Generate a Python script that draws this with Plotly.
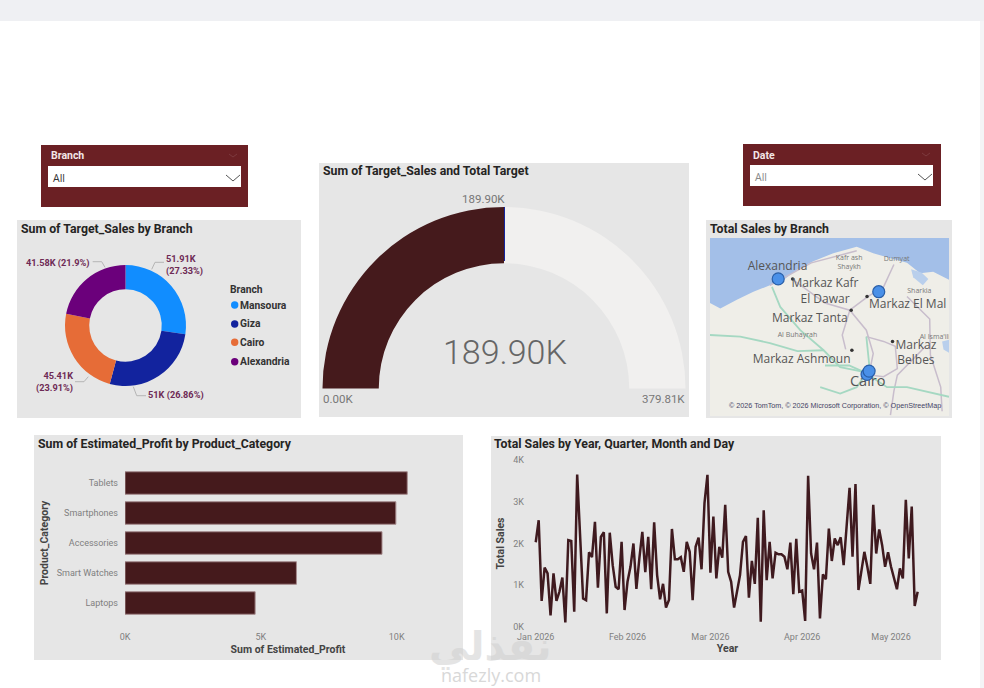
import plotly.graph_objects as go
import pandas as pd

# ---------- data ----------
branches = ["Mansoura", "Giza", "Cairo", "Alexandria"]
target_sales = [51.91, 51.0, 45.41, 41.58]
branch_colors = ["#118dff", "#12239e", "#e66c37", "#6b007b"]

gauge_value = 189.90
gauge_max = 379.81

categories = ["Tablets", "Smartphones", "Accessories", "Smart Watches", "Laptops"]
profit = [10390, 9970, 9460, 6310, 4790]

sales_start = "2026-01-01"
daily_sales = [
    2030, 2560, 620, 1420, 1280, 270, 1280, 620, 840, 1180, 100, 2080, 2060, 360, 3660, 1960,
    680, 640, 1790, 1670, 2520, 940, 2160, 2270, 320, 2260, 1480, 960, 900, 2040, 400,
    1080, 1440, 2000, 910, 1640, 2280, 1310, 2160, 900, 2510, 1240, 660, 1030, 460, 640, 2350,
    1620, 1620, 1670, 1320, 2040, 1800, 640, 1920, 2140, 1380, 2970, 3650,
    1300, 2650, 1160, 1920, 1660, 2930, 1320, 1080, 460, 880, 1240, 2040, 2180, 700, 1580, 1030,
    2620, 120, 2800, 1120, 2040, 1160, 1780, 1740, 1740, 1680, 1380, 2020, 780, 2110, 840,
    870, 140, 3630, 1760, 1380, 2020, 200, 1260, 1140, 2360, 1580, 2120, 1960, 2150, 1480,
    2500, 3340, 1680, 3430, 880, 1320, 1800, 1440, 1030, 2930, 1760, 2340, 1960, 1440, 1790,
    1440, 1200, 900, 1400, 1160, 3050, 1640, 2890, 500, 840,
]
month_ticks = ["2026-01-01", "2026-02-01", "2026-03-01", "2026-04-01", "2026-05-01"]
month_labels = ["Jan 2026", "Feb 2026", "Mar 2026", "Apr 2026", "May 2026"]

map_branches = ["Alexandria", "Mansoura", "Giza", "Cairo"]
map_lon = [29.92, 31.38, 31.21, 31.24]
map_lat = [31.20, 31.04, 30.01, 30.05]

sea_lon = [28.93, 28.93, 29.08, 29.32, 29.56, 29.80, 30.00, 30.19, 30.43, 30.72, 31.06, 31.30, 31.54, 31.79, 31.98, 32.17, 32.40, 32.40]
sea_lat = [31.71, 30.90, 30.83, 30.94, 31.04, 31.12, 31.19, 31.31, 31.42, 31.52, 31.60, 31.52, 31.46, 31.40, 31.27, 31.29, 31.19, 31.71]
lake1_lon = [31.85, 32.0, 32.10, 32.02, 31.88]
lake1_lat = [31.32, 31.28, 31.20, 31.12, 31.22]
lake2_lon = [32.30, 32.40, 32.40, 32.32]
lake2_lat = [30.42, 30.44, 30.28, 30.32]

green_roads = [
    ([29.83, 29.95, 30.24, 30.58, 30.82, 31.16], [31.10, 30.85, 30.56, 30.31, 30.10, 30.04]),
    ([28.93, 29.37, 29.80, 30.20, 30.58], [30.50, 30.48, 30.40, 30.30, 30.31]),
    ([31.20, 31.50, 31.79, 32.17, 32.40], [30.02, 29.85, 29.85, 29.77, 29.73]),
    ([30.53, 30.82, 31.06, 31.20], [29.85, 29.77, 29.85, 30.02]),
    ([31.20, 31.25], [30.48, 30.06]),
    ([30.60, 30.95, 31.16], [30.12, 30.12, 30.04]),
]
grey_roads = [
    ([30.15, 30.60, 30.96, 31.20, 31.30, 31.25], [31.18, 30.90, 30.81, 30.56, 30.27, 30.06]),
    ([31.20, 31.45, 31.62, 31.65, 31.45, 31.25], [30.48, 30.42, 30.36, 30.08, 29.98, 30.00]),
    ([31.79, 32.12, 32.13, 32.28, 32.30], [30.98, 30.70, 30.25, 29.85, 29.55]),
    ([30.96, 31.22, 31.45, 31.60], [30.81, 30.98, 31.10, 31.38]),
    ([30.96, 30.85, 30.90], [30.81, 30.50, 30.32]),
    ([31.55, 31.60, 31.65, 32.05], [29.50, 29.80, 30.00, 30.35]),
    ([29.80, 30.40, 31.06], [31.12, 31.40, 31.55]),
]
minor_dots_lon = [30.13, 31.21, 30.98, 30.99, 31.58]
minor_dots_lat = [31.20, 30.98, 30.81, 30.31, 30.42]

map_text = ["Alexandria", "Markaz Kafr<br>El Dawar", "Markaz Tanta", "Markaz El Mal", "Markaz Ashmoun", "Markaz<br>Belbes", "Cairo"]
map_text_lon = [29.91, 30.60, 30.38, 31.80, 30.26, 31.92, 31.22]
map_text_lat = [31.345, 31.04, 30.70, 30.87, 30.19, 30.27, 29.91]
map_text_size = [12, 12, 12, 12, 12, 12, 14.5]
small_text = ["Kafr ash<br>Shaykh", "Dumyat", "Sharkia", "Al Buhayrah", "Al Isma'iliyah"]
small_text_lon = [30.95, 31.64, 31.97, 30.20, 32.28]
small_text_lat = [31.40, 31.44, 31.05, 30.50, 30.47]

# ---------- helpers (page pixels to paper) ----------
W, H = 984, 688
fx = lambda x: x / W
fy = lambda y: 1 - y / H
shapes, notes = [], []


def rect(x0, y0, x1, y1, color):
    shapes.append(dict(type="rect", xref="paper", yref="paper", x0=fx(x0), x1=fx(x1), y0=fy(y0), y1=fy(y1),
                       fillcolor=color, line_width=0, layer="below"))


def path(points, color, width=1, layer="above"):
    d = "M" + " L".join(f"{fx(a):.5f},{fy(b):.5f}" for a, b in points)
    shapes.append(dict(type="path", xref="paper", yref="paper", path=d, line=dict(color=color, width=width), layer=layer))


def note(text, x, y, size=12.3, color="#252423", anchor="left", family="Roboto", weight=None, opacity=1):
    # annotations carry about 2px of padding on their anchored side
    x = x - 2 if anchor == "left" else x + 2 if anchor == "right" else x
    font = dict(size=size, color=color, family=family)
    if weight:
        font["weight"] = weight
    notes.append(dict(text=text, xref="paper", yref="paper", x=fx(x), y=fy(y), xanchor=anchor, yanchor="middle",
                      showarrow=False, align=anchor, font=font, opacity=opacity))


PANEL = "#e6e6e6"
MAROON = "#6b2024"
DARK = "#451a1c"
LABEL = "#6e2a55"
TICK = "#808080"

# page furniture
rect(0, 0, 984, 21, "#eff0f3")
rect(980, 21, 984, 688, "#f4f4f6")
rect(17, 220, 301, 418, PANEL)
rect(319, 163, 689, 417, PANEL)
rect(706, 220, 952, 418, PANEL)
rect(34, 435, 463, 660, PANEL)
rect(491, 436, 941, 660, PANEL)

# slicers
rect(41, 145, 248, 207, MAROON)
rect(48, 166, 241, 187, "#ffffff")
rect(743, 144, 941, 206, MAROON)
rect(750, 165, 933, 186, "#ffffff")
note("<b>Branch</b>", 51, 155.5, 10.5, "#f3e6e6")
note("All", 53, 178, 10.5, "#333333", family="Open Sans")
note("<b>Date</b>", 753, 155, 10.5, "#f3e6e6")
note("All", 755, 177, 10.5, "#888888", family="Open Sans")
path([(226, 175), (233, 181), (240, 175)], "#555555")
path([(918, 174), (925, 180), (932, 174)], "#555555")
path([(229, 154), (233, 157), (237, 154)], "#7d3a3e")
path([(922, 153), (926, 156), (930, 153)], "#7d3a3e")

# titles
note("<b>Sum of Target_Sales by Branch</b>", 21, 228.5)
note("<b>Sum of Target_Sales and Total Target</b>", 323, 171.5)
note("<b>Total Sales by Branch</b>", 710, 228.5)
note("<b>Sum of Estimated_Profit by Product_Category</b>", 38, 443.5)
note("<b>Total Sales by Year, Quarter, Month and Day</b>", 494, 443.5)

# donut labels
note("<b>51.91K<br>(27.33%)</b>", 166, 264.5, 9.2, LABEL)
note("<b>41.58K (21.9%)</b>", 90, 262.7, 9.2, LABEL, "right")
note("<b>45.41K<br>(23.91%)</b>", 73, 381.5, 9.2, LABEL, "right")
note("<b>51K (26.86%)</b>", 148, 394.5, 9.2, LABEL)
path([(151.7, 269.3), (155, 262.3), (164, 262.3)], "#b5b5b5")
path([(92.7, 261.7), (101.7, 261.7), (105, 267.3)], "#b5b5b5")
path([(88.3, 376.7), (84, 381.7), (75, 381.7)], "#b5b5b5")
path([(133.3, 386.7), (136.7, 395.7), (146, 395.7)], "#b5b5b5")

# donut legend
note("<b>Branch</b>", 230, 289.7, 10.3, "#333333")
for name, color, y in zip(branches, branch_colors, [305, 324, 342.3, 361.7]):
    shapes.append(dict(type="circle", xref="paper", yref="paper", x0=fx(231), x1=fx(238.4), y0=fy(y - 3.7), y1=fy(y + 3.7),
                       fillcolor=color, line_width=0))
    note(f"<b>{name}</b>", 240, y, 10.3, "#333333")

# gauge labels
note(f"{gauge_value:.2f}K", 483, 199, 11.5, "#777777", "center")
note("0.00K", 323, 399, 11.5, "#777777", "left")
note(f"{gauge_max:.2f}K", 685, 399, 11.5, "#777777", "right")
note(f"{gauge_value:.2f}K", 505, 352, 34, "#666666", "center", weight=300)
path([(504.5, 207), (504.5, 261)], "#12239e", 1)

# map attribution
for (x0, y0, c) in [(714, 399, "#f25022"), (718, 399, "#7fba00"), (714, 403, "#00a4ef"), (718, 403, "#ffb900")]:
    rect(x0, y0, x0 + 3.6, y0 + 3.6, c)
note("© 2026 TomTom, © 2026 Microsoft Corporation, © OpenStreetMap", 729, 405, 7.2, "#444466", family="Liberation Sans")

# watermark
note("<b>نفذلي</b>", 490, 646, 40, "#cfcfcf", "center", "DejaVu Sans", opacity=0.55)
note("nafezly.com", 491, 675, 18, "#d8d8d8", "center", "Open Sans")

fig = go.Figure()

# donut
fig.add_trace(go.Pie(labels=branches, values=target_sales, hole=0.6, sort=False, direction="clockwise", rotation=0,
                     marker=dict(colors=branch_colors, line=dict(width=0)), textinfo="none", showlegend=False,
                     domain=dict(x=[fx(65), fx(186)], y=[fy(386), fy(265)])))

# half-donut gauge: the hidden slice is the lower half of the ring
fig.add_trace(go.Pie(labels=["Value", "Remaining", "Hidden"], values=[gauge_value, gauge_max - gauge_value, gauge_max],
                     hole=0.69, sort=False, direction="clockwise", rotation=270,
                     marker=dict(colors=[DARK, "#f1f0ef", "rgba(0,0,0,0)"], line=dict(width=0)),
                     textinfo="none", showlegend=False, hoverinfo="skip",
                     domain=dict(x=[fx(322.5), fx(685.5)], y=[fy(570), fy(207)])))

# bars
fig.add_trace(go.Bar(y=categories, x=profit, orientation="h", marker=dict(color=DARK, line=dict(color="#a58a8c", width=1)),
                     width=0.75, xaxis="x", yaxis="y", showlegend=False))

# line
dates = pd.date_range(sales_start, periods=len(daily_sales), freq="D")
fig.add_trace(go.Scatter(x=dates, y=daily_sales, mode="lines", line=dict(color="#3f1a1f", width=2.5), xaxis="x2", yaxis="y2",
                         showlegend=False))

# map
fig.add_trace(go.Scatter(x=sea_lon, y=sea_lat, fill="toself", fillcolor="#a3bfe8", mode="none", xaxis="x3", yaxis="y3", showlegend=False, hoverinfo="skip"))
for lo, la in [(lake1_lon, lake1_lat), (lake2_lon, lake2_lat)]:
    fig.add_trace(go.Scatter(x=lo, y=la, fill="toself", fillcolor="#b9cfec", mode="none", xaxis="x3", yaxis="y3", showlegend=False, hoverinfo="skip"))
for lo, la in grey_roads:
    fig.add_trace(go.Scatter(x=lo, y=la, mode="lines", line=dict(color="#c8bdcc", width=1.5), xaxis="x3", yaxis="y3", showlegend=False, hoverinfo="skip"))
for lo, la in green_roads:
    fig.add_trace(go.Scatter(x=lo, y=la, mode="lines", line=dict(color="#a5d8c2", width=1.8), xaxis="x3", yaxis="y3", showlegend=False, hoverinfo="skip"))
fig.add_trace(go.Scatter(x=minor_dots_lon, y=minor_dots_lat, mode="markers", marker=dict(color="#333333", size=3.5), xaxis="x3", yaxis="y3", showlegend=False, hoverinfo="skip"))
fig.add_trace(go.Scatter(x=small_text_lon, y=small_text_lat, mode="text", text=small_text, textfont=dict(size=7, color="#777777", family="Open Sans"),
                         xaxis="x3", yaxis="y3", showlegend=False, hoverinfo="skip"))
fig.add_trace(go.Scatter(x=map_text_lon, y=map_text_lat, mode="text", text=map_text, textfont=dict(size=map_text_size, color="#555555", family="Open Sans"),
                         xaxis="x3", yaxis="y3", showlegend=False, hoverinfo="skip"))
fig.add_trace(go.Scatter(x=map_lon, y=map_lat, mode="markers", text=map_branches,
                         marker=dict(color="#4a90e8", size=12, line=dict(color="#2a5fa8", width=1.2)), xaxis="x3", yaxis="y3", showlegend=False))

rect(710, 238, 949, 416, "#efeee8")

tickfont = dict(size=9, color=TICK, family="Roboto")
titlefont = dict(size=10.5, color="#444444", family="Roboto")
fig.update_layout(
    width=W, height=H, margin=dict(l=0, r=0, t=0, b=0, autoexpand=False), paper_bgcolor="#ffffff", plot_bgcolor="rgba(0,0,0,0)",
    shapes=shapes, annotations=notes, showlegend=False, bargap=0.25,
    xaxis=dict(domain=[fx(125), fx(451)], range=[0, 12000], anchor="y", tickvals=[0, 5000, 10000], ticktext=["0K", "5K", "10K"],
               showgrid=False, zeroline=False, tickfont=tickfont, ticklabelstandoff=12,
               title=dict(text="<b>Sum of Estimated_Profit</b>", font=titlefont, standoff=4)),
    yaxis=dict(domain=[fy(618), fy(468)], anchor="x", autorange="reversed", categoryorder="array", categoryarray=categories,
               showgrid=False, zeroline=False, tickfont=tickfont, ticklabelstandoff=6,
               title=dict(text="<b>Product_Category</b>", font=titlefont, standoff=5)),
    xaxis2=dict(domain=[fx(525), fx(930)], range=["2025-12-28 09:00", "2026-05-14 04:00"], anchor="y2", type="date",
                tickvals=month_ticks, ticktext=month_labels, showgrid=False, zeroline=False, tickfont=tickfont, ticklabelstandoff=3,
                title=dict(text="<b>Year</b>", font=titlefont, standoff=2)),
    yaxis2=dict(domain=[fy(626.7), fy(460.3)], range=[0, 4000], anchor="x2", tickvals=[0, 1000, 2000, 3000, 4000],
                ticktext=["0K", "1K", "2K", "3K", "4K"], showgrid=False, zeroline=False, tickfont=tickfont,
                title=dict(text="<b>Total Sales</b>", font=titlefont, standoff=6)),
    xaxis3=dict(domain=[fx(710), fx(949)], range=[28.93, 32.40], anchor="y3", visible=False),
    yaxis3=dict(domain=[fy(416), fy(238)], range=[29.49, 31.71], anchor="x3", visible=False),
)

fig.write_html("out.html", config={"displayModeBar": False},
               post_script="document.body.style.margin='0';document.body.style.overflow='hidden';")
